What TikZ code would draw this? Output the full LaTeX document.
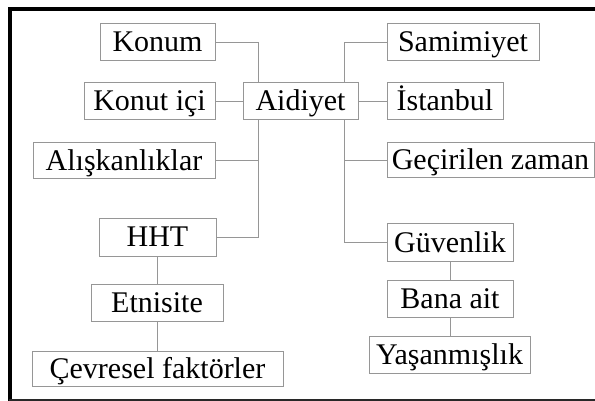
\documentclass[tikz,border=0pt]{standalone}
\usepackage{fontspec}
\setmainfont{Liberation Serif}
\definecolor{boxgray}{RGB}{150,150,150}
\definecolor{framegray}{RGB}{40,40,40}
\begin{document}
\begin{tikzpicture}[x=1pt,y=-1pt,
  kbox/.style={draw=boxgray,line width=1pt,inner sep=0pt,minimum height=37pt,
    text height=20pt,text depth=1pt,
    font=\fontsize{30}{35}\selectfont,text=black},
  link/.style={draw=boxgray,line width=1pt}]
\useasboundingbox (0,0) rectangle (595,401);
% frame
\draw[black,line width=3.5pt] (8.5,9) -- (595,9);
\draw[black,line width=3.8pt] (10.3,7.5) -- (10.3,401);
\draw[framegray,line width=2pt] (8.5,400) -- (595,400);
% nodes
\node[kbox,minimum width=115pt] (konum) at (157.5,42.5) {Konum};
\node[kbox,minimum width=131pt] (konut) at (149.5,101.5) {Konut içi};
\node[kbox,minimum width=115pt] (aid) at (300.5,101.5) {Aidiyet};
\node[kbox,minimum width=182pt,minimum height=36pt] (alis) at (124,161) {Alışkanlıklar};
\node[kbox,minimum width=117pt] (hht) at (157.5,237.5) {HHT};
\node[kbox,minimum width=132pt] (etn) at (157,302.5) {Etnisite};
\node[kbox,minimum width=251pt,minimum height=35pt] (cev) at (157.5,368.5) {Çevresel faktörler};
\node[kbox,minimum width=152pt] (sam) at (463,42.5) {Samimiyet};
\node[kbox,minimum width=116pt] (ist) at (445,101.5) {İstanbul};
\node[kbox,minimum width=207pt,minimum height=35pt] (gec) at (490.5,160.5) {Geçirilen zaman};
\node[kbox,minimum width=126pt] (guv) at (450,242.5) {Güvenlik};
\node[kbox,minimum width=126pt] (ban) at (450,298.5) {Bana ait};
\node[kbox,minimum width=161pt] (yas) at (449.5,354.5) {Yaşanmışlık};
% bus coordinates
\coordinate (lt) at ([xshift=-42.5pt]aid.north);
\coordinate (lb) at ([xshift=-42.5pt]aid.south);
\coordinate (rt) at ([xshift=43.5pt]aid.north);
\coordinate (rb) at ([xshift=43.5pt]aid.south);
% connectors
\draw[link] (konum.east) -| (lt);
\draw[link] (konut.east) -- (aid.west);
\draw[link] (lb) |- (hht.east);
\draw[link] (alis.east) -- (alis.east -| lb);
\draw[link] (sam.west) -| (rt);
\draw[link] (ist.west) -- (aid.east);
\draw[link] (rb) |- (guv.west);
\draw[link] (gec.west) -- (gec.west -| rb);
\draw[link] (guv.south) -- (ban.north);
\draw[link] (ban.south) -- (ban.south |- yas.north);
\draw[link] (hht.south) -- (hht.south |- etn.north);
\draw[link] (etn.south) -- (etn.south |- cev.north);
\end{tikzpicture}
\end{document}
